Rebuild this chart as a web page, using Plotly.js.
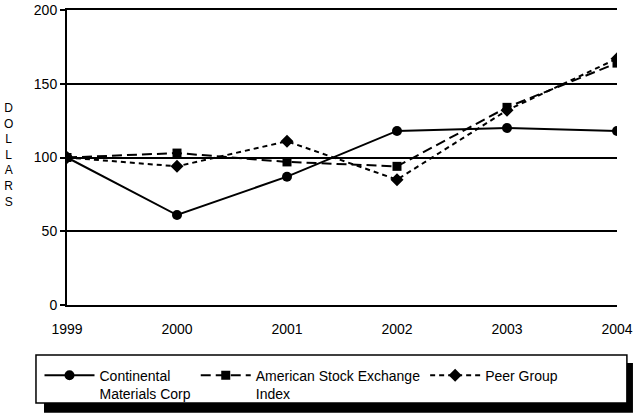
<!DOCTYPE html>
<html><head><meta charset="utf-8">
<script src="https://cdn.plot.ly/plotly-3.0.1.min.js"></script>
<style>html,body{margin:0;padding:0;background:#fff}#c{width:633px;height:414px}</style>
</head><body><div id="c"></div>
<script>
const years = [1999, 2000, 2001, 2002, 2003, 2004];
const continental = [100, 61, 87, 118, 120, 118];
const amex = [100, 103, 97, 94, 134, 164];
const peer = [100, 94, 111, 85, 132, 167];
const yTicks = [0, 50, 100, 150, 200];
const names = ["Continental<br>Materials Corp", "American Stock Exchange<br>Index", "Peer Group"];
const yTitle = "DOLLARS";

const font = {family: "Liberation Sans, Arial, sans-serif", size: 14, color: "#000"};
const traces = [
  {x: years, y: continental, name: names[0], mode: "lines+markers",
   line: {color: "#000", width: 2, dash: "solid"}, marker: {symbol: "circle", size: 10, color: "#000"}},
  {x: years, y: amex, name: names[1], mode: "lines+markers",
   line: {color: "#000", width: 2, dash: "10px,5px"}, marker: {symbol: "square", size: 9, color: "#000"}},
  {x: years, y: peer, name: names[2], mode: "lines+markers",
   line: {color: "#000", width: 2, dash: "5px,4px"}, marker: {symbol: "diamond", size: 10, color: "#000"}}
];
const layout = {
  width: 633, height: 414,
  margin: {l: 67, r: 16, t: 10, b: 109, autoexpand: false},
  paper_bgcolor: "#fff", plot_bgcolor: "#fff",
  font: font,
  showlegend: true,
  xaxis: {range: [1999, 2004], tickvals: years, ticktext: years.map(String), showgrid: false,
          zeroline: false, showline: true, linecolor: "#000", linewidth: 2, mirror: true,
          ticks: "", tickfont: font, ticklabelstandoff: 10, fixedrange: true, automargin: false},
  yaxis: {range: [0, 200], tickvals: yTicks, showgrid: true, gridcolor: "#000", gridwidth: 2,
          zeroline: false, showline: true, linecolor: "#000", linewidth: 2,
          ticks: "outside", ticklen: 5, tickwidth: 2, tickcolor: "#000", tickfont: font,
          automargin: false},
  legend: {orientation: "h", x: -0.05, y: -0.185, xanchor: "left", yanchor: "top",
           bgcolor: "rgba(0,0,0,0)", font: font, valign: "top", itemwidth: 50,
           tracegroupgap: 0},
  shapes: [
    {type: "rect", xref: "paper", yref: "paper", x0: -0.0418, x1: 1.029, y0: -0.365, y1: -0.197,
     fillcolor: "#000", line: {width: 0}},
    {type: "rect", xref: "paper", yref: "paper", x0: -0.0564, x1: 1.018, y0: -0.332, y1: -0.1695,
     fillcolor: "#fff", line: {color: "#000", width: 1.5}}
  ],
  annotations: [
    {text: yTitle.split("").join("<br>"), xref: "paper", yref: "paper", x: -0.107, y: 0.508,
     xanchor: "center", yanchor: "middle", showarrow: false,
     font: {family: font.family, size: 12, color: "#000"}}
  ]
};
Plotly.newPlot("c", traces, layout, {displayModeBar: false, staticPlot: true});
</script></body></html>
